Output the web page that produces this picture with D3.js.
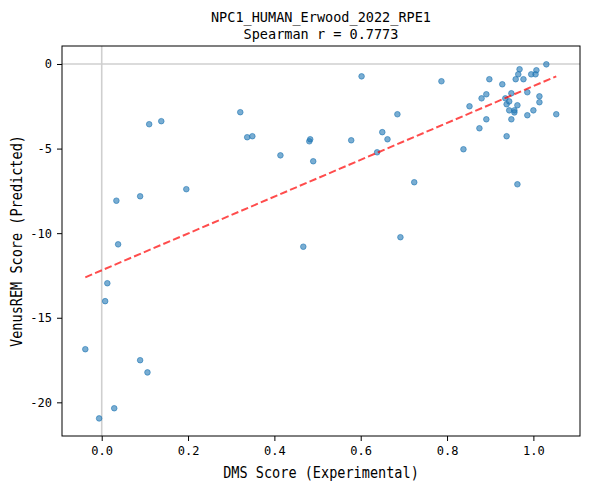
<!DOCTYPE html>
<html>
<head>
<meta charset="utf-8">
<script src="https://cdn.jsdelivr.net/npm/d3@7"></script>
<style>
  body { margin: 0; background: #fff; }
  text { font-family: "DejaVu Sans Mono", monospace; fill: #000; }
</style>
</head>
<body>
<div id="chart"></div>
<script>
// DMS score (experimental)
const dmsScore = [
    -0.038, -0.006, 0.008, 0.013, 0.029, 0.034, 0.038, 0.089, 0.089, 0.106,
    0.110, 0.138, 0.196, 0.321, 0.337, 0.349, 0.414, 0.467, 0.481, 0.483,
    0.490, 0.578, 0.602, 0.638, 0.650, 0.662, 0.685, 0.692, 0.724, 0.787,
    0.838, 0.852, 0.875, 0.880, 0.891, 0.891, 0.898, 0.928, 0.935, 0.938,
    0.938, 0.944, 0.944, 0.949, 0.949, 0.956, 0.956, 0.959, 0.963, 0.963,
    0.965, 0.968, 0.977, 0.986, 0.986, 0.995, 1.005, 1.007, 1.000, 1.014,
    1.014, 1.030, 1.053
];

// VenusREM score (predicted), same order
const venusScore = [
    -16.86, -20.95, -14.02, -12.96, -20.35, -8.08, -10.66, -7.82, -17.51, -18.23,
    -3.56, -3.38, -7.40, -2.85, -4.33, -4.27, -5.40, -10.80, -4.57, -4.45,
    -5.75, -4.51, -0.73, -5.22, -4.03, -4.45, -2.97, -10.24, -6.99, -1.02,
    -5.04, -2.50, -3.80, -2.03, -1.79, -3.27, -0.90, -1.20, -2.03, -2.38,
    -4.27, -2.21, -2.74, -1.73, -3.27, -2.74, -2.86, -0.90, -2.44, -7.11,
    -0.61, -0.31, -0.90, -1.67, -3.03, -0.61, -0.61, -0.37, -2.74, -1.91,
    -2.26, -0.02, -2.97
];

// fitted line end points (x, y)
const fitX = [-0.038, 1.053];
const fitY = [-12.61, -0.73];

const xTicks = [0.0, 0.2, 0.4, 0.6, 0.8, 1.0];
const yTicks = [0, -5, -10, -15, -20];

const titleLines = ["NPC1_HUMAN_Erwood_2022_RPE1", "Spearman r = 0.7773"];
const xLabel = "DMS Score (Experimental)";
const yLabel = "VenusREM Score (Predicted)";

const width = 590;
const height = 489;
const margin = { top: 46, right: 10, bottom: 53, left: 62 };
const innerW = width - margin.left - margin.right;
const innerH = height - margin.top - margin.bottom;
const charW = 8.15; // the big labels use narrow glyphs

const svg = d3.select("#chart")
              .append("svg")
              .attr("width", width)
              .attr("height", height);

const g = svg.append("g")
             .attr("transform", `translate(${margin.left},${margin.top})`);

const xScale = d3.scaleLinear()
                 .domain([-0.092, 1.108])
                 .range([0, innerW]);

const yScale = d3.scaleLinear()
                 .domain([-21.99, 1.064])
                 .range([innerH, 0]);

// reference lines at zero
g.append("line")
 .attr("x1", 0).attr("x2", innerW)
 .attr("y1", yScale(0)).attr("y2", yScale(0))
 .attr("stroke", "#cfcfcf").attr("stroke-width", 1.6);

g.append("line")
 .attr("x1", xScale(0)).attr("x2", xScale(0))
 .attr("y1", 0).attr("y2", innerH)
 .attr("stroke", "#cfcfcf").attr("stroke-width", 1.6);

// points
const points = dmsScore.map((d, i) => ({ x: d, y: venusScore[i] }));
g.selectAll("circle")
 .data(points)
 .enter()
 .append("circle")
 .attr("cx", d => xScale(d.x))
 .attr("cy", d => yScale(d.y))
 .attr("r", 2.8)
 .attr("fill", "#1f77b4")
 .attr("fill-opacity", 0.6)
 .attr("stroke", "#1f77b4")
 .attr("stroke-opacity", 0.6)
 .attr("stroke-width", 1);

// fit line
const fitLine = d3.line()
                  .x(d => xScale(d[0]))
                  .y(d => yScale(d[1]));
g.append("path")
 .datum(fitX.map((d, i) => [d, fitY[i]]))
 .attr("d", fitLine)
 .attr("fill", "none")
 .attr("stroke", "red")
 .attr("stroke-opacity", 0.7)
 .attr("stroke-width", 2)
 .attr("stroke-dasharray", "7.4,3.2");

// axes
const xAxis = g.append("g")
               .attr("transform", `translate(0,${innerH})`)
               .call(d3.axisBottom(xScale).tickValues(xTicks).tickFormat(d3.format(".1f")).tickSizeOuter(0).tickSize(5).tickPadding(5));
const yAxis = g.append("g")
               .call(d3.axisLeft(yScale).tickValues(yTicks).tickFormat(d3.format("d")).tickSizeOuter(0).tickSize(5).tickPadding(5));

[xAxis, yAxis].forEach(ax => {
    ax.select(".domain").remove();
    ax.selectAll("line").attr("stroke", "#000").attr("stroke-width", 1);
    ax.selectAll("text")
      .style("font-family", "'DejaVu Sans Mono', monospace")
      .style("font-size", "12px");
});
yAxis.selectAll("text").text(d => d3.format("d")(d).replace("−", "-"));

// frame
g.append("rect")
 .attr("x", 0).attr("y", 0)
 .attr("width", innerW).attr("height", innerH)
 .attr("fill", "none")
 .attr("stroke", "#000")
 .attr("stroke-width", 1);

// title and labels
function bigText(sel, str, size) {
    sel.text(str)
       .style("font-size", `${size}px`)
       .attr("text-anchor", "middle")
       .attr("textLength", str.length * charW)
       .attr("lengthAdjust", "spacingAndGlyphs");
}

titleLines.forEach((t, i) => {
    svg.append("text")
       .attr("x", margin.left + innerW / 2)
       .attr("y", 22 + i * 17)
       .call(bigText, t, 14.5);
});

svg.append("text")
   .attr("x", margin.left + innerW / 2)
   .attr("y", 478)
   .call(bigText, xLabel, 16);

svg.append("text")
   .attr("transform", `translate(22,${margin.top + innerH / 2}) rotate(-90)`)
   .call(bigText, yLabel, 16);
</script>
</body>
</html>
